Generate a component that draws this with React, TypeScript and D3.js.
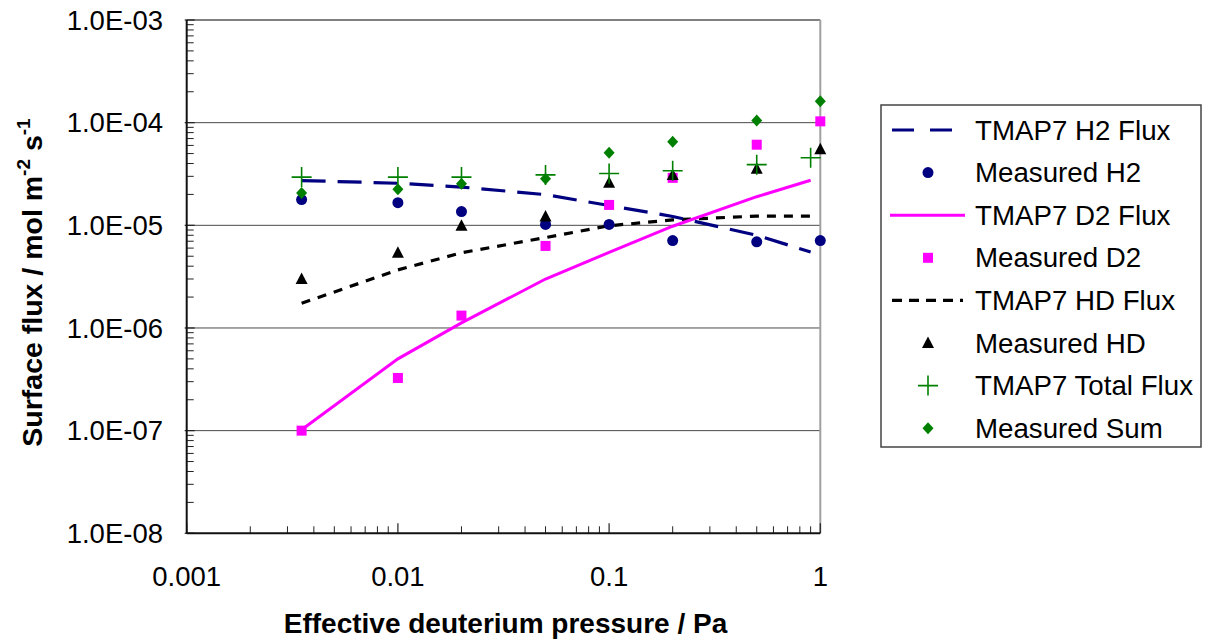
import React from "react";
import * as d3 from "d3";

const pressures = [0.0035, 0.01, 0.02, 0.05, 0.1, 0.2, 0.5, 1];
const modelPressures = [0.0035, 0.01, 0.02, 0.05, 0.1, 0.2, 0.5, 0.9];

const tmapH2 = [2.73e-5, 2.57e-5, 2.36e-5, 1.99e-5, 1.56e-5, 1.22e-5, 8.0e-6, 5.5e-6];
const measH2 = [1.78e-5, 1.66e-5, 1.36e-5, 1.02e-5, 1.02e-5, 7.1e-6, 6.9e-6, 7.1e-6];
const tmapD2 = [1.02e-7, 5.0e-7, 1.12e-6, 3.0e-6, 5.45e-6, 9.8e-6, 1.9e-5, 2.75e-5];
const measD2 = [1.0e-7, 3.26e-7, 1.32e-6, 6.3e-6, 1.58e-5, 2.9e-5, 6.1e-5, 1.03e-4];
const tmapHD = [1.74e-6, 3.68e-6, 5.4e-6, 7.6e-6, 9.9e-6, 1.13e-5, 1.23e-5, 1.23e-5];
const measHD = [3.0e-6, 5.4e-6, 9.9e-6, 1.22e-5, 2.6e-5, 3.1e-5, 3.55e-5, 5.5e-5];
const tmapTotal = [2.95e-5, 2.95e-5, 2.95e-5, 3.1e-5, 3.2e-5, 3.4e-5, 3.9e-5, 4.55e-5];
const measSum = [2.07e-5, 2.25e-5, 2.54e-5, 2.84e-5, 5.1e-5, 6.5e-5, 1.05e-4, 1.62e-4];

const xTickValues = [0.001, 0.01, 0.1, 1];
const xTickLabels = ["0.001", "0.01", "0.1", "1"];
const yTickValues = [1e-3, 1e-4, 1e-5, 1e-6, 1e-7, 1e-8];
const yTickLabels = ["1.0E-03", "1.0E-04", "1.0E-05", "1.0E-06", "1.0E-07", "1.0E-08"];

const legendLabels = [
  "TMAP7 H2 Flux",
  "Measured H2",
  "TMAP7 D2 Flux",
  "Measured D2",
  "TMAP7 HD Flux",
  "Measured HD",
  "TMAP7 Total Flux",
  "Measured Sum",
];

const NAVY = "#000080";
const MAGENTA = "#FF00FF";
const GREEN = "#008000";
const FONT = "'Liberation Sans', Arial, sans-serif";

const L = 186.7, R = 820.3, T = 20, B = 533.3;

export default function App() {
  const x = d3.scaleLog().domain([0.001, 1]).range([L, R]);
  const y = d3.scaleLog().domain([1e-8, 1e-3]).range([B, T]);

  const line = (ys: number[]) =>
    d3.line<number>().x((_, i) => x(modelPressures[i])).y((v) => y(v))(ys) || "";

  const xMinor: number[] = [];
  for (let e = -3; e < 0; e++) for (let k = 2; k <= 9; k++) xMinor.push(k * Math.pow(10, e));
  const yMinor: number[] = [];
  for (let e = -8; e < -3; e++) for (let k = 2; k <= 9; k++) yMinor.push(k * Math.pow(10, e));

  const circle = (cx: number, cy: number, key: any) => (
    <ellipse key={key} cx={cx} cy={cy} rx={5.5} ry={5.5} fill={NAVY} />
  );
  const square = (cx: number, cy: number, key: any) => (
    <rect key={key} x={cx - 5} y={cy - 5} width={10} height={10} fill={MAGENTA} />
  );
  const triangle = (cx: number, cy: number, key: any) => (
    <path key={key} d={`M${cx},${cy - 6.5}L${cx + 6},${cy + 5}L${cx - 6},${cy + 5}Z`} fill="#000" />
  );
  const cross = (cx: number, cy: number, key: any) => (
    <path key={key} d={`M${cx - 10},${cy}H${cx + 10}M${cx},${cy - 10}V${cy + 10}`} stroke={GREEN} strokeWidth={1.6} fill="none" />
  );
  const diamond = (cx: number, cy: number, key: any) => (
    <path key={key} d={`M${cx},${cy - 6}L${cx + 5.5},${cy}L${cx},${cy + 6}L${cx - 5.5},${cy}Z`} fill={GREEN} />
  );

  const legendTop = 130;
  const legendStep = 42.6;
  const lx0 = 892, lx1 = 957, lmx = 928, ltx = 975;

  return (
    <svg width={1206} height={642} style={{ position: "absolute", left: 0, top: 0, background: "#fff" }} fontFamily={FONT}>
      <rect x={0} y={0} width={1206} height={642} fill="#fff" />
      {yTickValues.slice(1, 5).map((v, i) => (
        <line key={"g" + i} x1={L} x2={R} y1={y(v)} y2={y(v)} stroke="#4a4a4a" strokeWidth={1} />
      ))}
      <line x1={L} x2={R} y1={T} y2={T} stroke="#808080" strokeWidth={2} />
      <line x1={R} x2={R} y1={T} y2={B} stroke="#a0a0a0" strokeWidth={2} />

      {yMinor.map((v, i) => (
        <line key={"ym" + i} x1={L} x2={L + 7} y1={y(v)} y2={y(v)} stroke="#222" strokeWidth={1} />
      ))}
      {yTickValues.map((v, i) => (
        <line key={"yM" + i} x1={L - 2} x2={L + 8} y1={y(v)} y2={y(v)} stroke="#222" strokeWidth={1.2} />
      ))}
      {xMinor.map((v, i) => (
        <line key={"xm" + i} x1={x(v)} x2={x(v)} y1={B} y2={B - 7} stroke="#222" strokeWidth={1} />
      ))}
      {xTickValues.map((v, i) => (
        <line key={"xM" + i} x1={x(v)} x2={x(v)} y1={B} y2={B - 10} stroke="#222" strokeWidth={1.2} />
      ))}
      <line x1={L} x2={L} y1={T} y2={B} stroke="#111" strokeWidth={2} />
      <line x1={L} x2={R} y1={B} y2={B} stroke="#111" strokeWidth={2} />

      {yTickValues.map((v, i) => (
        <text key={"yl" + i} x={163} y={y(v)} dy="0.35em" textAnchor="end" fontSize={27.5} fill="#000">
          {yTickLabels[i]}
        </text>
      ))}
      {xTickValues.map((v, i) => (
        <text key={"xl" + i} x={x(v)} y={586} textAnchor="middle" fontSize={27.5} fill="#000">
          {xTickLabels[i]}
        </text>
      ))}

      <text x={(L + R) / 2 + 2} y={633} textAnchor="middle" fontSize={28} fontWeight="bold" fill="#000">
        Effective deuterium pressure / Pa
      </text>
      <text transform={`translate(41.5,282.5) rotate(-90)`} textAnchor="middle" fontSize={28.5} fontWeight="bold" fill="#000">
        Surface flux / mol m
        <tspan fontSize={19} dy={-12}>-2</tspan>
        <tspan dy={12}> s</tspan>
        <tspan fontSize={19} dy={-12}>-1</tspan>
      </text>

      <path d={line(tmapHD)} fill="none" stroke="#000" strokeWidth={3.2} strokeDasharray="9,8" />
      <path d={line(tmapD2)} fill="none" stroke={MAGENTA} strokeWidth={3} />
      <path d={line(tmapH2)} fill="none" stroke={NAVY} strokeWidth={3.2} strokeDasharray="24,12" />

      {measH2.map((v, i) => circle(x(pressures[i]), y(v), "c" + i))}
      {measD2.map((v, i) => square(x(pressures[i]), y(v), "s" + i))}
      {measHD.map((v, i) => triangle(x(pressures[i]), y(v), "t" + i))}
      {tmapTotal.map((v, i) => cross(x(modelPressures[i]), y(v), "x" + i))}
      {measSum.map((v, i) => diamond(x(pressures[i]), y(v), "d" + i))}

      <rect x={881} y={105} width={320} height={342} fill="#fff" stroke="#444" strokeWidth={1.5} />
      {legendLabels.map((lab, i) => {
        const ly = legendTop + i * legendStep;
        let sym: any = null;
        if (i === 0) sym = <line x1={lx0} x2={lx1} y1={ly} y2={ly} stroke={NAVY} strokeWidth={3.2} strokeDasharray="22,16" />;
        else if (i === 1) sym = circle(lmx, ly, "lc");
        else if (i === 2) sym = <line x1={lx0 - 2} x2={lx1 + 8} y1={ly} y2={ly} stroke={MAGENTA} strokeWidth={3} />;
        else if (i === 3) sym = square(lmx, ly, "ls");
        else if (i === 4) sym = <line x1={lx0} x2={lx1 + 6} y1={ly} y2={ly} stroke="#000" strokeWidth={3.2} strokeDasharray="10,7" />;
        else if (i === 5) sym = triangle(lmx, ly, "lt");
        else if (i === 6) sym = cross(lmx, ly, "lx");
        else sym = diamond(lmx, ly, "ld");
        return (
          <g key={"lg" + i}>
            {sym}
            <text x={ltx} y={ly} dy="0.35em" fontSize={27.7} fill="#000">{lab}</text>
          </g>
        );
      })}
    </svg>
  );
}
